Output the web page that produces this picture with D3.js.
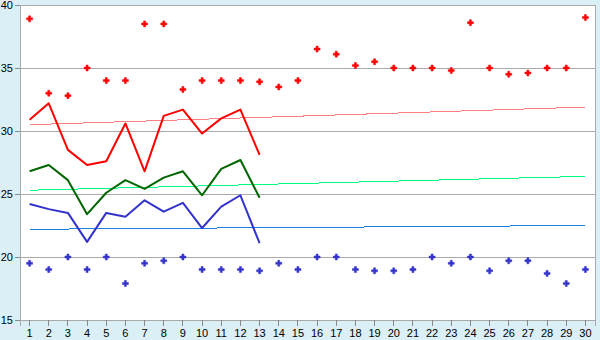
<!DOCTYPE html>
<html>
<head>
<meta charset="utf-8">
<script src="https://cdn.jsdelivr.net/npm/d3@7"></script>
<style>
  body { margin: 0; background: #daeff6; }
  svg { display: block; }
</style>
</head>
<body>
<div id="chart"></div>
<script>
const days = d3.range(1, 31);

// daily highs / lows (dots)
const maxPoints = [38.9, 33.0, 32.8, 35.0, 34.0, 34.0, 38.5, 38.5, 33.3, 34.0,
  34.0, 34.0, 33.9, 33.5, 34.0, 36.5, 36.1, 35.2, 35.5, 35.0,
  35.0, 35.0, 34.8, 38.6, 35.0, 34.5, 34.6, 35.0, 35.0, 39.0];
const minPoints = [19.5, 19.0, 20.0, 19.0, 20.0, 17.9, 19.5, 19.7, 20.0, 19.0,
  19.0, 19.0, 18.9, 19.5, 19.0, 20.0, 20.0, 19.0, 18.9, 18.9,
  19.0, 20.0, 19.5, 20.0, 18.9, 19.7, 19.7, 18.7, 17.9, 19.0];

// lines for days 1..13
const highLine = [30.9, 32.2, 28.5, 27.3, 27.6, 30.6, 26.8, 31.2, 31.7, 29.8, 31.0, 31.7, 28.1];
const avgLine = [26.8, 27.3, 26.1, 23.4, 25.1, 26.1, 25.4, 26.3, 26.8, 24.9, 27.0, 27.7, 24.7];
const lowLine = [24.2, 23.8, 23.5, 21.2, 23.5, 23.2, 24.5, 23.6, 24.3, 22.3, 24.0, 24.9, 21.1];

// trend lines, value on day 1 and day 30
const highTrend = [30.5, 31.9];
const avgTrend = [25.3, 26.4];
const lowTrend = [22.2, 22.5];

const yTicks = [15, 20, 25, 30, 35, 40];

const width = 600;
const height = 340;
const margin = { top: 5, right: 5, bottom: 20, left: 20 };

const svg = d3.select('#chart')
  .append('svg')
  .attr('width', width)
  .attr('height', height);

svg.append('rect')
  .attr('width', width)
  .attr('height', height)
  .attr('fill', '#daeff6');

const x = d3.scaleBand()
  .domain(days)
  .range([margin.left, width - margin.right]);

const y = d3.scaleLinear()
  .domain([15, 40])
  .range([height - margin.bottom, margin.top]);

const cx = (d) => x(d) + x.bandwidth() / 2;

// plot area
svg.append('rect')
  .attr('x', margin.left)
  .attr('y', margin.top)
  .attr('width', width - margin.left - margin.right)
  .attr('height', height - margin.top - margin.bottom)
  .attr('fill', '#fff')
  .attr('stroke', '#aaa')
  .attr('shape-rendering', 'crispEdges');

// gridlines
svg.append('g')
  .selectAll('line')
  .data(yTicks)
  .enter()
  .append('line')
  .attr('x1', margin.left)
  .attr('x2', width - margin.right)
  .attr('y1', (d) => y(d))
  .attr('y2', (d) => y(d))
  .attr('stroke', '#aaa')
  .attr('shape-rendering', 'crispEdges');

// axes
const yAxis = svg.append('g')
  .attr('transform', `translate(${margin.left},0)`)
  .call(d3.axisLeft(y).tickValues(yTicks).tickSize(5).tickPadding(2));

const xAxis = svg.append('g')
  .attr('transform', `translate(0,${height - margin.bottom})`)
  .call(d3.axisBottom(x).tickSize(6).tickPadding(3));

[yAxis, xAxis].forEach((ax) => {
  ax.select('.domain').attr('stroke', '#aaa').attr('shape-rendering', 'crispEdges');
  ax.selectAll('.tick line').attr('stroke', '#888').attr('shape-rendering', 'crispEdges');
  ax.selectAll('text')
    .attr('fill', '#000')
    .style('font-family', 'Liberation Sans, Arial, sans-serif')
    .style('font-size', '11px');
});

// trend lines
const trends = [
  { values: highTrend, color: '#ff8080' },
  { values: avgTrend, color: '#00ff80' },
  { values: lowTrend, color: '#1a80e6' },
];
trends.forEach((t) => {
  svg.append('line')
    .attr('x1', cx(days[0]))
    .attr('x2', cx(days[days.length - 1]))
    .attr('y1', y(t.values[0]))
    .attr('y2', y(t.values[1]))
    .attr('stroke', t.color)
    .attr('stroke-width', 1)
    .attr('shape-rendering', 'crispEdges');
});

// main lines
const line = d3.line()
  .x((d, i) => cx(days[i]))
  .y((d) => y(d));

const series = [
  { values: highLine, color: '#ff0000' },
  { values: avgLine, color: '#006600' },
  { values: lowLine, color: '#3333cc' },
];
series.forEach((s) => {
  svg.append('path')
    .datum(s.values)
    .attr('fill', 'none')
    .attr('stroke', s.color)
    .attr('stroke-width', 2)
    .attr('stroke-linejoin', 'round')
    .attr('d', line);
});

// dots
const marker = d3.symbol().type(d3.symbolCross).size(20);
const dots = [
  { values: maxPoints, color: '#ff0000' },
  { values: minPoints, color: '#3333cc' },
];
dots.forEach((s) => {
  svg.append('g')
    .selectAll('path')
    .data(s.values)
    .enter()
    .append('path')
    .attr('d', marker)
    .attr('transform', (d, i) => `translate(${cx(days[i])},${y(d)})`)
    .attr('fill', s.color)
    .attr('stroke', s.color)
    .attr('stroke-width', 0.5)
    .attr('stroke-linejoin', 'round');
});
</script>
</body>
</html>
